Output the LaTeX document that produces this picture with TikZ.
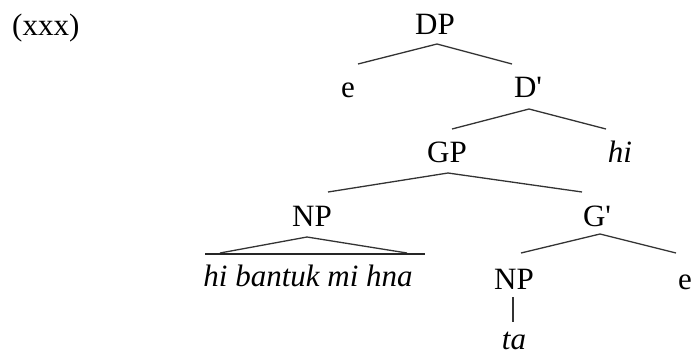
\documentclass[tikz,border=0pt]{standalone}
\usepackage{fontspec}
\setmainfont{Liberation Serif}
\begin{document}
\begin{tikzpicture}[x=1pt,y=1pt,
  lab/.style={anchor=base,inner sep=0pt,font=\fontsize{31}{36}\selectfont},
  ilab/.style={lab,font=\fontsize{31}{36}\selectfont\itshape},
  branch/.style={line width=1.3pt,draw=black!80},
  base/.style={line width=2.2pt,draw=black!85}]
\useasboundingbox (0,0) rectangle (693,-354);
% labels
\node[lab,anchor=base west] (ex) at (12,-35) {(xxx)};
\node[lab] (dp) at (435,-34) {DP};
\node[lab] (e1) at (348,-97) {e};
\node[lab] (dbar) at (528,-97) {D\textquotesingle};
\node[lab] (gp) at (447,-162) {GP};
\node[ilab] (hi) at (620,-162) {hi};
\node[lab] (np1) at (312,-226) {NP};
\node[lab] (gbar) at (597,-226) {G\textquotesingle};
\node[ilab] (phrase) at (308,-286) {hi bantuk mi hna};
\node[lab] (np2) at (514,-289) {NP};
\node[lab] (e2) at (685,-289) {e};
\node[ilab,text depth=0pt] (ta) at (514,-349) {ta};
% branch points
\coordinate (dpA) at (437,-44);
\coordinate (dpL) at (358,-64);
\coordinate (dpR) at (512,-64);
\coordinate (dbA) at (529,-109);
\coordinate (dbL) at (452,-129);
\coordinate (dbR) at (606,-129);
\coordinate (gpA) at (448,-173);
\coordinate (gpL) at (328,-192);
\coordinate (gpR) at (582,-192);
\coordinate (npA) at (307,-237);
\coordinate (npL) at (220,-253);
\coordinate (npR) at (407,-253);
\coordinate (bL) at (205,-254);
\coordinate (bR) at (425,-254);
\coordinate (gbA) at (600,-234);
\coordinate (gbL) at (521,-253);
\coordinate (gbR) at (676,-253);
\coordinate (np2B) at (513,-297);
\coordinate (taT) at (513,-322);
% branches
\draw[branch] (dpL) -- (dpA) -- (dpR);
\draw[branch] (dbL) -- (dbA) -- (dbR);
\draw[branch] (gpL) -- (gpA) -- (gpR);
\draw[branch] (npL) -- (npA) -- (npR);
\draw[base] (bL) -- (bR);
\draw[branch] (gbL) -- (gbA) -- (gbR);
\draw[branch] (np2B) -- (taT);
\end{tikzpicture}
\end{document}
